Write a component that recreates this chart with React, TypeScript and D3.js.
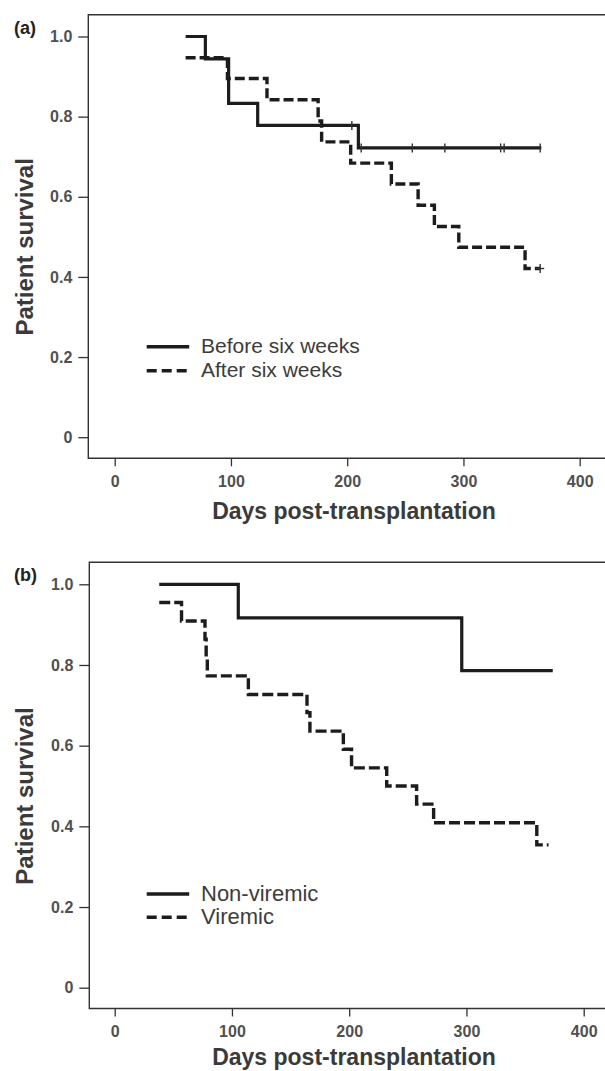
import React, { useEffect, useRef } from "react";
import * as d3 from "d3";

// tick values
const dayTicks = [0, 100, 200, 300, 400];
const survTicks = [0, 0.2, 0.4, 0.6, 0.8, 1.0];

// panel (a): time of diagnosis
const beforeDays = [61, 78, 98, 123, 209.6, 367];
const beforeSurv = [1.0, 0.944, 0.833, 0.778, 0.722, 0.722];
const beforeCensor = [204, 212, 256, 284, 332, 335, 366];
const afterDays = [61, 97, 131, 175, 178, 203, 238, 261, 275, 296, 353, 366];
const afterSurv = [0.947, 0.895, 0.842, 0.789, 0.737, 0.684, 0.632, 0.579, 0.526, 0.474, 0.421, 0.421];
const afterCensor = [366];

// panel (b): viremia
const nonViremicDays = [38, 105.4, 296, 373.6];
const nonViremicSurv = [1.0, 0.917, 0.786, 0.786];
const viremicDays = [38, 57, 77, 78, 79, 114, 164, 166.5, 195, 202, 232, 257.5, 272, 360, 370];
const viremicSurv = [0.955, 0.909, 0.864, 0.818, 0.773, 0.727, 0.682, 0.636, 0.591, 0.545, 0.5, 0.455, 0.409, 0.354, 0.354];

const panels = [
  {
    tag: "(a)",
    box: { left: 88.3, top: 14.7, bottom: 458.3 },
    xRange: [114.7, 579.7],
    yRange: [437.2, 36.5],
    titleY: 519.3,
    dash: "10,4",
    series: [
      { name: "Before six weeks", days: beforeDays, surv: beforeSurv, censor: beforeCensor, dashed: false },
      { name: "After six weeks", days: afterDays, surv: afterSurv, censor: afterCensor, dashed: true },
    ],
    legendY: [346.7, 370.7],
    legendSize: 21,
  },
  {
    tag: "(b)",
    box: { left: 89.3, top: 562.3, bottom: 1008.5 },
    xRange: [114.7, 583.7],
    yRange: [987.7, 584.3],
    titleY: 1065,
    dash: "11,4",
    series: [
      { name: "Non-viremic", days: nonViremicDays, surv: nonViremicSurv, censor: [], dashed: false },
      { name: "Viremic", days: viremicDays, surv: viremicSurv, censor: [], dashed: true },
    ],
    legendY: [894, 917.3],
    legendSize: 22,
  },
];

const FONT = "'Liberation Sans', Arial, sans-serif";

export default function App() {
  const ref = useRef<SVGSVGElement>(null);

  useEffect(() => {
    const svg = d3.select(ref.current);
    svg.selectAll("*").remove();

    panels.forEach((p) => {
      const x = d3.scaleLinear().domain([0, 400]).range(p.xRange);
      const y = d3.scaleLinear().domain([0, 1]).range(p.yRange);
      const g = svg.append("g");

      // box (right side runs off the picture)
      g.append("path")
        .attr("d", `M620,${p.box.top}H${p.box.left}V${p.box.bottom}H620`)
        .attr("fill", "none").attr("stroke", "#333").attr("stroke-width", 1.4);

      const yAxis = g.append("g").attr("transform", `translate(${p.box.left},0)`)
        .call(d3.axisLeft(y).tickValues(survTicks).tickSize(10).tickPadding(6)
          .tickFormat((v: any) => (v === 0 ? "0" : d3.format(".1f")(v))));
      const xAxis = g.append("g").attr("transform", `translate(0,${p.box.bottom})`)
        .call(d3.axisBottom(x).tickValues(dayTicks).tickSize(8).tickPadding(9.5).tickFormat(d3.format("d")));
      [yAxis, xAxis].forEach((a) => {
        a.select(".domain").remove();
        a.selectAll("line").attr("stroke", "#333").attr("stroke-width", 1.3);
        a.selectAll("text").attr("font-family", FONT).attr("font-size", 16).attr("font-weight", "bold").attr("fill", "#505050");
      });

      // titles
      g.append("text").attr("x", 14).attr("y", p.box.top + 19).text(p.tag)
        .attr("font-family", FONT).attr("font-size", 18).attr("font-weight", "bold").attr("fill", "#222");
      g.append("text").attr("x", 354).attr("y", p.titleY).attr("text-anchor", "middle")
        .text("Days post-transplantation")
        .attr("font-family", FONT).attr("font-size", 23).attr("font-weight", "bold").attr("fill", "#3a3a3a");
      const yc = (p.yRange[0] + p.yRange[1]) / 2 + 10;
      g.append("text").attr("transform", `translate(33,${yc}) rotate(-90)`).attr("text-anchor", "middle")
        .text("Patient survival")
        .attr("font-family", FONT).attr("font-size", 24).attr("font-weight", "bold").attr("fill", "#3a3a3a");

      p.series.forEach((s, si) => {
        const pts = s.days.map((d, i) => [d, s.surv[i]] as [number, number]);
        const gen = d3.line<[number, number]>().x((d) => x(d[0])).y((d) => y(d[1])).curve(d3.curveStepAfter);
        g.append("path").attr("d", gen(pts))
          .attr("fill", "none").attr("stroke", "#1c1c1c").attr("stroke-width", s.dashed ? 3.4 : 3.2)
          .attr("stroke-dasharray", s.dashed ? p.dash : null);

        // censor marks
        const survAt = (d: number) => {
          let v = s.surv[0];
          s.days.forEach((t, i) => { if (t <= d) v = s.surv[i]; });
          return v;
        };
        s.censor.forEach((c) => {
          const cx = x(c), cy = y(survAt(c));
          g.append("line").attr("x1", cx).attr("x2", cx).attr("y1", cy - 4.5).attr("y2", cy + 4.5)
            .attr("stroke", "#333").attr("stroke-width", 1.4);
          if (s.dashed) {
            g.append("line").attr("x1", cx - 4).attr("x2", cx + 4).attr("y1", cy).attr("y2", cy)
              .attr("stroke", "#333").attr("stroke-width", 1.4);
          }
        });

        // legend
        const ly = p.legendY[si];
        g.append("line").attr("x1", 146.7).attr("x2", 189.2).attr("y1", ly).attr("y2", ly)
          .attr("stroke", "#1c1c1c").attr("stroke-width", 3.4)
          .attr("stroke-dasharray", s.dashed ? "10,5" : null);
        g.append("text").attr("x", 201).attr("y", ly + 6.5).text(s.name)
          .attr("font-family", FONT).attr("font-size", p.legendSize).attr("fill", "#3c3c3c");
      });
    });
  }, []);

  return (
    <svg ref={ref} width={605} height={1071}
      style={{ position: "absolute", left: 0, top: 0, background: "#fff" }} />
  );
}
